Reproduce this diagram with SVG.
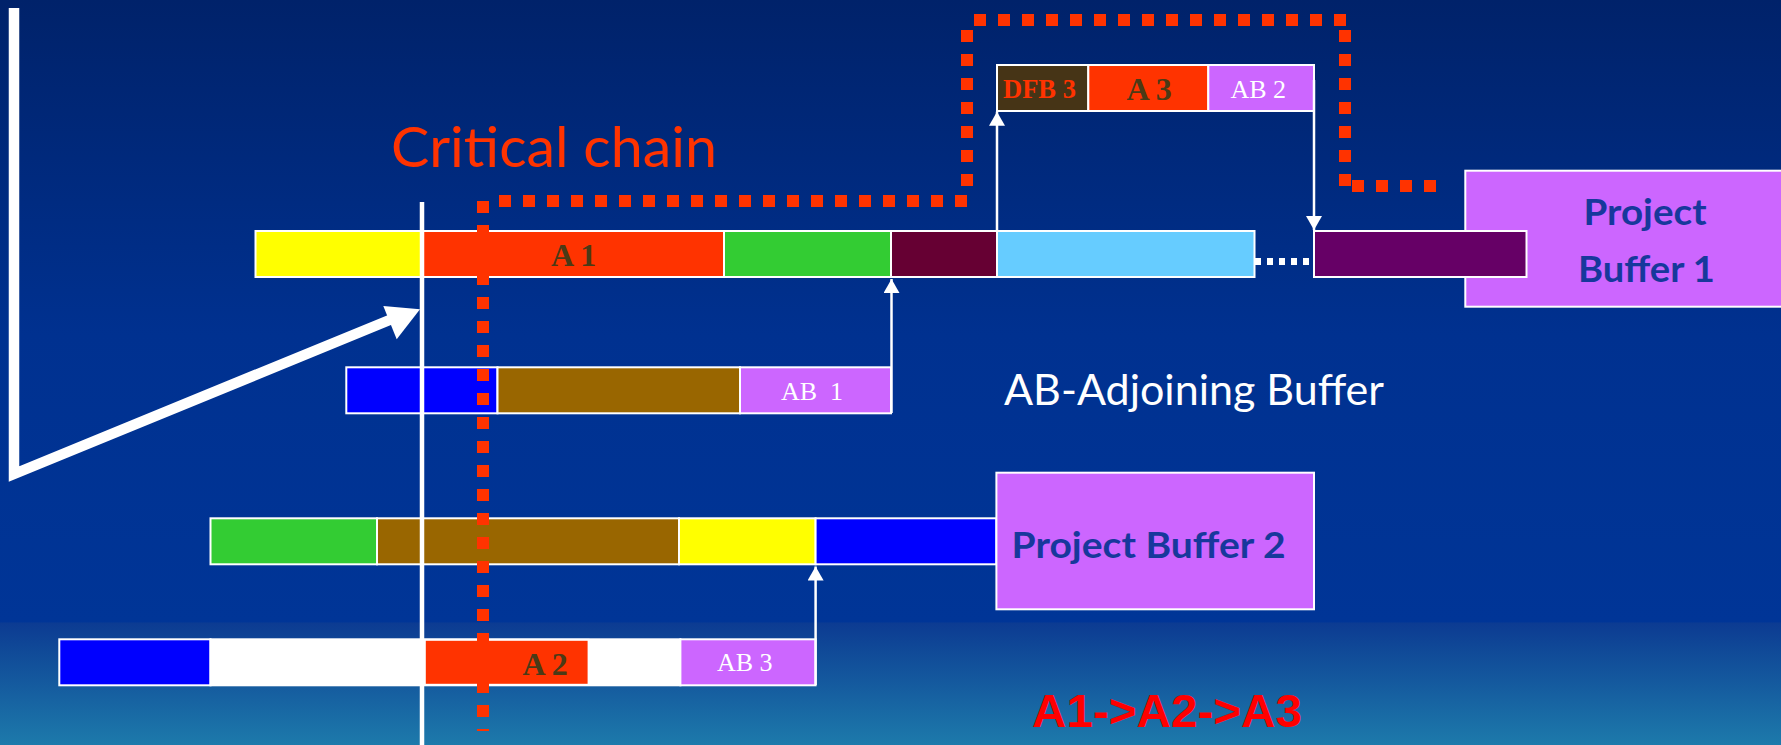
<svg xmlns="http://www.w3.org/2000/svg" width="1781" height="745" viewBox="0 0 1781 745">
<defs>
<linearGradient id="bg" x1="0" y1="0" x2="0" y2="745" gradientUnits="userSpaceOnUse">
<stop offset="0" stop-color="#00226a"/>
<stop offset="0.45" stop-color="#003190"/>
<stop offset="0.835" stop-color="#003597"/>
<stop offset="0.836" stop-color="#0c3b92"/>
<stop offset="1" stop-color="#1d7aab"/>
</linearGradient>
<marker id="ah" markerUnits="userSpaceOnUse" markerWidth="18" markerHeight="16" refX="14" refY="8" orient="auto">
<path d="M0,0 L14,8 L0,16 Z" fill="#fff"/>
</marker>
<style>
.bar{stroke:#fff;stroke-width:2}
.cal{font-family:Lato,"Open Sans","DejaVu Sans",sans-serif}
.tnr{font-family:"Liberation Serif","Times New Roman",serif}
.lbl{font-size:32px;font-weight:bold;fill:#4a3a16}
.ab{font-size:26px;fill:#fff}
.pb{font-size:37px;font-weight:bold;fill:#17389c}
.thin{stroke:#fff;stroke-width:2.5;fill:none}
.crit{stroke:#ff3300;stroke-width:12;stroke-dasharray:12 12;fill:none}
</style>
</defs>
<rect x="0" y="0" width="1781" height="745" fill="url(#bg)"/>

<g id="pb1">
<rect class="bar" x="1465.3" y="170.7" width="330" height="136" fill="#cc66ff"/>
<text class="cal pb" x="1645" y="225" text-anchor="middle" textLength="123" lengthAdjust="spacingAndGlyphs">Project</text>
<text class="cal pb" x="1646.5" y="281.7" text-anchor="middle" textLength="137" lengthAdjust="spacingAndGlyphs">Buffer 1</text>
</g>

<g id="row1">
<rect id="r1-yellow" class="bar" x="255.5" y="231" width="167.5" height="46" fill="#ffff00"/>
<g id="a1">
<rect class="bar" x="423" y="231" width="301" height="46" fill="#ff3300"/>
<text class="tnr lbl" x="551" y="265.7">A 1</text>
</g>
<rect id="r1-green" class="bar" x="724" y="231" width="167" height="46" fill="#33cc33"/>
<rect id="r1-maroon" class="bar" x="891" y="231" width="106" height="46" fill="#660033"/>
<rect id="r1-lightblue" class="bar" x="997" y="231" width="257.5" height="46" fill="#66ccff"/>
<rect id="r1-purple" class="bar" x="1314" y="231" width="212.5" height="46" fill="#660066"/>
</g>

<g id="rowA3">
<g id="dfb3">
<rect class="bar" x="997" y="65" width="91.3" height="46" fill="#463416"/>
<text class="tnr" x="1003" y="97.7" font-size="26.5" font-weight="bold" fill="#ff3300">DFB 3</text>
</g>
<g id="a3">
<rect class="bar" x="1088.3" y="65" width="120" height="46" fill="#ff3300"/>
<text class="tnr lbl" x="1126.5" y="100">A 3</text>
</g>
<g id="ab2">
<rect class="bar" x="1208.3" y="65" width="105.7" height="46" fill="#cc66ff"/>
<text class="tnr ab" x="1230.5" y="97.7" font-size="26.5">AB 2</text>
</g>
</g>

<g id="rowAB1">
<rect id="r2-blue" class="bar" x="346.3" y="367.3" width="151.2" height="46" fill="#0000ff"/>
<rect id="r2-brown" class="bar" x="497.5" y="367.3" width="242.5" height="46" fill="#996600"/>
<g id="ab1">
<rect class="bar" x="740" y="367.3" width="151" height="46" fill="#cc66ff"/>
<text class="tnr ab" x="781" y="400" xml:space="preserve">AB  1</text>
</g>
</g>

<g id="row3">
<rect id="r3-green" class="bar" x="210.5" y="518.3" width="166.5" height="46" fill="#33cc33"/>
<rect id="r3-brown" class="bar" x="377" y="518.3" width="302" height="46" fill="#996600"/>
<rect id="r3-yellow" class="bar" x="679" y="518.3" width="136.6" height="46" fill="#ffff00"/>
<rect id="r3-blue" class="bar" x="815.6" y="518.3" width="180.8" height="46" fill="#0000ff"/>
</g>

<g id="pb2">
<rect class="bar" x="996.4" y="472.7" width="317.6" height="136.6" fill="#cc66ff"/>
<text class="cal pb" x="1011.6" y="558.3" textLength="274" lengthAdjust="spacingAndGlyphs">Project Buffer 2</text>
</g>

<g id="rowA2">
<rect id="r4-blue" class="bar" x="59.3" y="639.3" width="151.2" height="46" fill="#0000ff"/>
<rect id="r4-white" class="bar" x="210.5" y="639.3" width="469.9" height="46" fill="#ffffff"/>
<g id="a2">
<rect class="bar" x="424.8" y="639.8" width="163.8" height="45" fill="#ff3300"/>
<text class="tnr lbl" x="522.5" y="675">A 2</text>
</g>
<g id="ab3">
<rect class="bar" x="680.4" y="639.3" width="135.2" height="46" fill="#cc66ff"/>
<text class="tnr ab" x="717" y="671">AB 3</text>
</g>
</g>

<g id="connectors">
<line x1="422" y1="202" x2="422" y2="745" stroke="#fff" stroke-width="4.5"/>
<path class="crit" d="M483 201 V731"/>
<path class="crit" d="M499 201 H967"/>
<path class="crit" d="M967 30 V186"/>
<path class="crit" d="M974 20 H1346"/>
<path class="crit" d="M1345 30 V186"/>
<path class="crit" d="M1352 186 H1436"/>
<line class="thin" x1="891.5" y1="413" x2="891.5" y2="279" marker-end="url(#ah)"/>
<line class="thin" x1="997" y1="231" x2="997" y2="111.7" marker-end="url(#ah)"/>
<line class="thin" x1="1314" y1="80" x2="1314" y2="230" marker-end="url(#ah)"/>
<line class="thin" x1="815.6" y1="685" x2="815.6" y2="566.5" marker-end="url(#ah)"/>
<path d="M1255 261.5 H1309" stroke="#fff" stroke-width="7" stroke-dasharray="6 6" fill="none"/>
<path d="M14 8 V474 L392 319" stroke="#fff" stroke-width="10.5" stroke-linejoin="miter" fill="none"/>
<polygon points="420,309.3 383.3,306 396.7,339.3" fill="#fff"/>
</g>

<g id="labels">
<text class="cal" x="391" y="166.7" font-size="57" fill="#ff3300" textLength="326" lengthAdjust="spacingAndGlyphs">Critical chain</text>
<text class="cal" x="1004" y="405" font-size="42" fill="#ffffff" textLength="380" lengthAdjust="spacingAndGlyphs">AB-Adjoining Buffer</text>
<text x="1032" y="726.7" font-family="'Liberation Sans',Arial,sans-serif" font-size="46.5" font-weight="bold" fill="#ff0000" textLength="270" lengthAdjust="spacingAndGlyphs">A1-&gt;A2-&gt;A3</text>
</g>
</svg>
